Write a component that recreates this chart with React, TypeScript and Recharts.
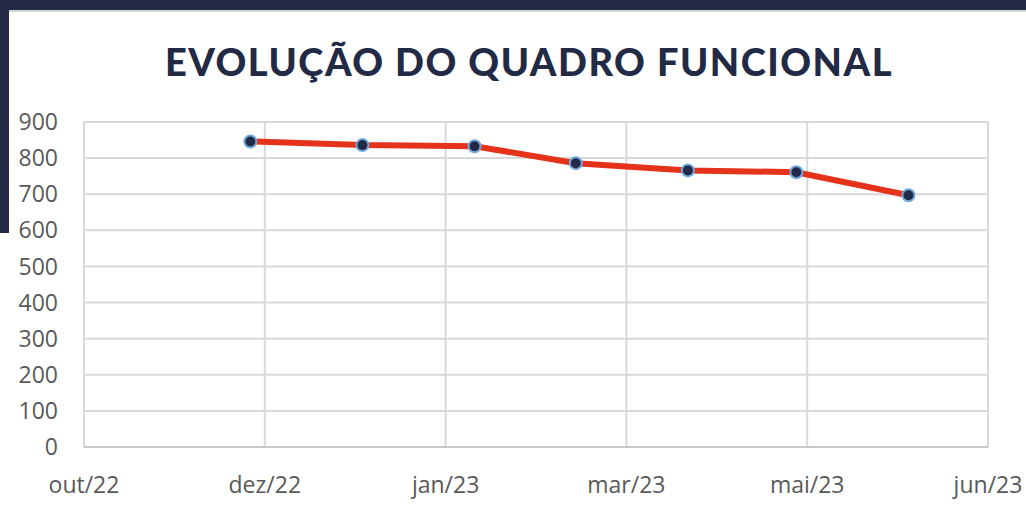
import { LineChart, Line, XAxis, YAxis, CartesianGrid } from 'recharts'

// Excel date axis: starts 20/out/22, one major tick every 50 days
const AXIS_START = Date.UTC(2022, 9, 20)
const DAY = 86_400_000

const tickDays = [0, 50, 100, 150, 200, 250]
const tickLabels = ['out/22', 'dez/22', 'jan/23', 'mar/23', 'mai/23', 'jun/23']
const yTicks = [0, 100, 200, 300, 400, 500, 600, 700, 800, 900]

const dates = ['2022-12-05', '2023-01-05', '2023-02-05', '2023-03-05', '2023-04-05', '2023-05-05', '2023-06-05']
const headcount = [846, 836, 833, 786, 766, 761, 697]

const data = dates.map((d, i) => ({
  day: Math.round((Date.parse(d) - AXIS_START) / DAY),
  value: headcount[i],
}))

const NAVY = '#222a45'
const TEXT = '#595959'
const GRID = '#d9d9d9'
const FONT = '"Open Sans", "Noto Sans", sans-serif'

export default function App() {
  return (
    <div style={{ position: 'fixed', left: 0, top: 0, width: 1026, height: 509, background: '#fff', overflow: 'hidden' }}>
      <div style={{ position: 'absolute', left: 0, top: 0, width: 1026, height: 10, background: NAVY }} />
      <div style={{ position: 'absolute', left: 0, top: 10, width: 1026, height: 2, background: '#d6d6d6' }} />
      <div style={{ position: 'absolute', left: 0, top: 0, width: 9, height: 233, background: NAVY }} />
      <div
        style={{
          position: 'absolute',
          left: 0,
          top: 31,
          width: 1058,
          textAlign: 'center',
          fontFamily: 'Lato, sans-serif',
          fontWeight: 900,
          fontSize: 38,
          letterSpacing: 1.5,
          color: NAVY,
          lineHeight: '60px',
        }}
      >
        EVOLUÇÃO DO QUADRO FUNCIONAL
      </div>
      <div style={{ position: 'absolute', left: 0, top: 0 }}>
        <LineChart width={1026} height={509} data={data} margin={{ top: 122, right: 38, bottom: 32, left: 0 }}>
          <CartesianGrid stroke={GRID} strokeWidth={2} />
          <XAxis
            type="number"
            dataKey="day"
            height={30}
            domain={[0, 250]}
            ticks={tickDays}
            tickFormatter={(v, i) => tickLabels[i]}
            interval={0}
            tickLine={false}
            tickSize={0}
            tickMargin={30}
            axisLine={{ stroke: '#c8c8c8', strokeWidth: 2 }}
            tick={{ fill: TEXT, fontSize: 23, fontFamily: FONT }}
            allowDataOverflow
          />
          <YAxis
            width={84}
            domain={[0, 900]}
            ticks={yTicks}
            interval={0}
            tickLine={false}
            axisLine={false}
            tickSize={0}
            tickMargin={26}
            tick={{ fill: TEXT, fontSize: 23, fontFamily: FONT }}
          />
          <Line
            type="linear"
            dataKey="value"
            stroke="#e5321a"
            strokeWidth={6}
            dot={{ r: 6, fill: NAVY, stroke: '#6fa8dc', strokeWidth: 2 }}
            isAnimationActive={false}
          />
        </LineChart>
      </div>
    </div>
  )
}
